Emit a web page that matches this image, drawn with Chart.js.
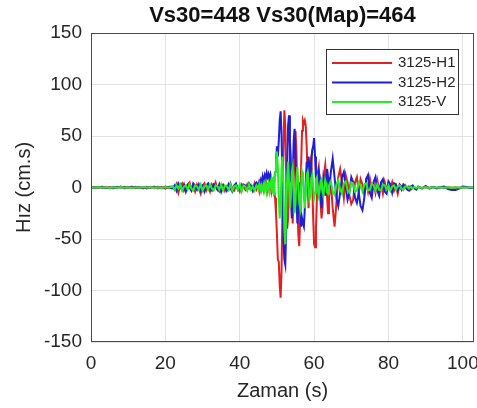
<!DOCTYPE html>
<html>
<head>
<meta charset="utf-8">
<script src="https://cdn.jsdelivr.net/npm/chart.js@4"></script>
<style>
  html, body { margin: 0; padding: 0; background: #fff; }
  #wrap { width: 477px; height: 408px; }
</style>
</head>
<body>
<div id="wrap"><canvas id="chart" width="477" height="408"></canvas></div>
<script>
// zaman (s)
const times = [
    0, 1, 2, 3, 4, 5, 6, 7, 8, 9, 10, 11, 12, 13, 14, 15, 16, 17, 18, 19, 20, 21,
    22, 22.5, 23, 23.5, 24, 24.5, 25, 25.5, 26, 26.5, 27, 27.5, 28, 28.5, 29, 29.5, 30, 30.5, 31, 31.5, 32, 32.5, 33, 33.5,
    34, 34.5, 35, 35.5, 36, 36.5, 37, 37.5, 38, 38.5, 39, 39.5, 40, 40.5, 41, 41.5, 42, 42.5, 43, 43.5, 44, 44.5,
    45, 45.25, 45.5, 45.75, 46, 46.25, 46.5, 46.75, 47, 47.25, 47.5, 47.75, 48, 48.25, 48.5, 48.75,
    49, 49.25, 49.5, 49.75, 50, 50.25, 50.5, 50.75, 51, 51.25, 51.5, 51.75, 52, 52.25, 52.5, 52.75,
    53, 53.25, 53.5, 53.75, 54, 54.25, 54.5, 54.75, 55, 55.25, 55.5, 55.75, 56, 56.25, 56.5, 56.75,
    57, 57.25, 57.5, 57.75, 58, 58.25, 58.5, 58.75, 59, 59.25, 59.5, 59.75, 60, 60.25, 60.5, 60.75,
    61, 61.25, 61.5, 61.75, 62, 62.25, 62.5, 62.75, 63, 63.25, 63.5, 63.75,
    64, 64.5, 65, 65.5, 66, 66.5, 67, 67.5, 68, 68.5, 69, 69.5, 70, 70.5, 71, 71.5, 72, 72.5, 73, 73.5,
    74, 74.5, 75, 75.5, 76, 76.5, 77, 77.5, 78, 78.5, 79, 79.5, 80, 80.5, 81, 81.5, 82, 82.5, 83, 83.5,
    84, 84.5, 85, 85.5, 86, 86.5, 87, 87.5,
    88, 89, 90, 91, 92, 93, 94, 95, 96, 97, 98, 99, 100, 101, 102, 103
];

// 3125-H1
const h1Values = [
    0, 0.5, -0.5, 0.8, -0.6, 0.4, -0.8, 0.6, -0.3, 0.7, -0.5, 0.9, -0.7, 0.5, -0.9, 0.6, -0.4, 1, -0.8, 0.5, -1, 0.8,
    1, -2, 3, -5, 2, 4, -3, 1, 3, 5, -2, 2, -4, 3, -1, -6, 2, 4, -3, 1, -4, 3, 0, 5,
    -2, -4, 2, 3, -3, 1, -2, 4, -1, -3, 2, 0, -4, 3, 1, -2, 3, -1, 2, -3, 4, -2,
    2, -3, 4, -2, 3, 5, -2, 3, 6, 2, -3, 4, 7, 3, -4, 2,
    5, -2, -10, -25, -45, -70, -72, -95, -107, -80, -20, 40, 75, 60, 10, -40,
    -30, 10, 45, 30, -10, -35, 5, 40, 55, 35, -10, -45, -57, -30, 20, 55,
    65, 62, 65, 60, 40, 10, -20, -5, 25, 30, 5, -30, -55, -58, -40, -10,
    15, 20, 5, -15, -30, -20, 0, 15, 22, 10, -10, -25,
    -10, 5, -20, -38, -15, 10, 18, 5, -10, 12, 5, -8, -16, -12, 5, 10, -5, 8, 3, -6,
    6, -4, 8, -3, 4, -5, 7, -2, 3, -6, 5, -3, 4, -2, 5, -3, 2, -6, 3, 1,
    -2, 2, -1, 1, -2, 1, 0, -1,
    0.5, -0.5, 0.3, -0.2, 0.4, -0.3, 0.2, -0.4, 0.3, -0.2, 0.1, -0.2, 0.2, -0.1, 0.1, 0
];

// 3125-H2
const h2Values = [
    0, -0.4, 0.6, -0.5, 0.3, -0.7, 0.5, -0.3, 0.8, -0.6, 0.4, -0.5, 0.7, -0.4, 0.5, -0.8, 0.6, -0.3, 0.7, -0.6, 0.9, -0.5,
    -1, 2, -3, 4, 1, -2, 3, -4, 2, 0, -3, 4, 2, -2, 3, -3, 1, -4, 2, 4, -1, -3, 3, 1,
    -2, 3, -4, 2, 1, -3, 3, -1, -4, 2, 4, -2, 1, -3, 3, 2, -2, 4, 1, -3, 3, 5,
    2, 6, 4, 8, 5, 10, 7, 12, 9, 14, 10, 13, 8, 12, 5, 2,
    -3, 5, 15, 25, 40, 30, 45, 65, 74, 50, 0, -50, -70, -75, -40, 20,
    60, 70, 40, -10, -30, 10, 45, 57, 30, -10, -35, -20, 5, -15, -38, -30,
    -35, -38, -20, 5, 25, 15, 30, 20, 10, 25, 36, 40, 48, 30, 10, -5,
    5, 15, 10, -10, -20, -5, 10, 5, -8, 5, 18, 10,
    -5, 15, 28, 10, -10, -18, -5, 10, 15, 0, -12, -5, 10, 5, -10, -15, -5, -18, -22, -10,
    8, 12, -5, -10, 5, 10, -3, -8, 5, 8, -4, -6, 6, 3, -5, 4, 3, -3, 2, -2,
    3, 1, -2, -3, 1, 2, -1, -2,
    1, -1, 1.5, -1, 0.5, -1, 0.5, 1, -1.5, -2.5, -2.5, -1, 1, 0.5, -0.5, 0
];

// 3125-V
const vValues = [
    0.3, -0.3, 0.4, -0.2, 0.3, -0.4, 0.2, -0.3, 0.4, -0.2, 0.3, -0.4, 0.2, -0.3, 0.5, -0.3, 0.4, -0.2, 0.3, -0.5, 0.4, -0.3,
    1, -2, 2, -1, 3, -3, 1, 2, -2, 3, -1, -3, 2, 1, -2, 3, -3, 1, 2, -2, 3, -1, -3, 2,
    1, -2, 3, -3, 2, 1, -2, 3, -3, 1, 2, -2, 3, -4, 2, 1, -3, 3, -2, 1, -3, 2,
    -1, 3, -2, 2, -3, 1, 4, -2, 3, -4, 2, 5, -3, 4, 8, -5,
    10, -8, 15, 25, 35, 20, -10, -30, -15, 20, 30, 0, -40, -55, -30, 10,
    25, 5, -20, -10, 15, 20, -5, -25, -15, 10, 20, 5, -15, -20, 0, 15,
    10, -10, -20, -5, 12, 15, 0, -12, -8, 8, 12, 0, -10, -5, 8, 10,
    -2, -8, -3, 6, 8, -2, -8, 0, 7, 4, -5, -6,
    2, 6, -4, -7, 3, 7, -2, -6, 4, 6, -3, -5, 5, 4, -4, -3, 5, 2, -4, 3,
    4, -3, -2, 4, 2, -3, 3, -2, -3, 3, 2, -2, 2, -3, 1, 2, -2, 1, 2, -1,
    -2, 1, 1, -1, 1, -1, 0.5, -0.5,
    0.5, -0.5, 0.4, -0.4, 0.3, -0.3, 0.3, -0.3, 0.2, -0.2, 0.2, -0.2, 0.1, -0.1, 0.1, 0
];

const seriesLabels = ['3125-H1', '3125-H2', '3125-V'];
const seriesColors = ['#e41f1f', '#1f1fd6', '#22ee22'];
const xTicks = [0, 20, 40, 60, 80, 100];

function toPoints(values) {
    return values.map((v, i) => ({ x: times[i], y: v }));
}

// MATLAB tarzı çerçeve
const boxPlugin = {
    id: 'boxPlugin',
    afterDraw(chart) {
        const { ctx, chartArea } = chart;
        ctx.save();
        ctx.strokeStyle = '#4a4a4a';
        ctx.lineWidth = 1;
        ctx.strokeRect(chartArea.left + 0.5, chartArea.top + 0.5,
            chartArea.right - chartArea.left - 1, chartArea.bottom - chartArea.top - 1);
        ctx.restore();
    }
};

// grafik içindeki lejant
const legendPlugin = {
    id: 'legendPlugin',
    afterDraw(chart) {
        const { ctx, chartArea } = chart;
        const boxW = 132, boxH = 65;
        const x = chartArea.right - 16 - boxW;
        const y = chartArea.top + 16;
        ctx.save();
        ctx.fillStyle = '#ffffff';
        ctx.fillRect(x, y, boxW, boxH);
        ctx.strokeStyle = '#333333';
        ctx.lineWidth = 1;
        ctx.strokeRect(x + 0.5, y + 0.5, boxW, boxH);
        ctx.font = '15px "Liberation Sans", Arial, sans-serif';
        ctx.textBaseline = 'middle';
        chart.data.datasets.forEach((ds, i) => {
            const rowY = y + 14 + i * 19.5;
            ctx.strokeStyle = ds.borderColor;
            ctx.lineWidth = 2;
            ctx.beginPath();
            ctx.moveTo(x + 6, rowY);
            ctx.lineTo(x + 66, rowY);
            ctx.stroke();
            ctx.fillStyle = '#262626';
            ctx.fillText(ds.label, x + 72, rowY);
        });
        ctx.restore();
    }
};

const datasets = [h1Values, h2Values, vValues].map((values, i) => ({
    label: seriesLabels[i],
    data: toPoints(values),
    borderColor: seriesColors[i],
    backgroundColor: seriesColors[i],
    borderWidth: 2,
    pointRadius: 0,
    tension: 0,
    fill: false,
    order: 3 - i
}));

const fontFamily = '"Liberation Sans", Arial, sans-serif';

new Chart(document.getElementById('chart').getContext('2d'), {
    type: 'line',
    data: { datasets },
    options: {
        responsive: false,
        animation: false,
        devicePixelRatio: 1,
        layout: { padding: { left: 0, right: 3, top: 0, bottom: 0 } },
        plugins: {
            legend: { display: false },
            tooltip: { enabled: false },
            title: {
                display: true,
                fullSize: false,
                text: 'Vs30=448 Vs30(Map)=464',
                color: '#111',
                font: { family: fontFamily, size: 22, weight: 'bold' },
                padding: { top: 3, bottom: 3.6 }
            }
        },
        scales: {
            x: {
                type: 'linear',
                min: 0,
                max: 103,
                afterBuildTicks(scale) {
                    scale.ticks = xTicks.map(v => ({ value: v }));
                },
                afterFit(scale) {
                    scale.height = 66;
                    scale.paddingLeft = 0;
                    scale.paddingRight = 0;
                },
                ticks: {
                    color: '#262626',
                    font: { family: fontFamily, size: 19 },
                    padding: 10,
                    maxRotation: 0
                },
                grid: { color: '#e3e3e3', drawTicks: false },
                border: { display: false },
                title: {
                    display: true,
                    text: 'Zaman (s)',
                    color: '#262626',
                    font: { family: fontFamily, size: 20 },
                    padding: { top: 0, bottom: 5 }
                }
            },
            y: {
                min: -150,
                max: 150,
                ticks: {
                    stepSize: 50,
                    color: '#262626',
                    font: { family: fontFamily, size: 19 },
                    padding: 9
                },
                afterFit(scale) {
                    scale.width = 91;
                    scale.paddingTop = 0;
                    scale.paddingBottom = 0;
                },
                grid: { color: '#e3e3e3', drawTicks: false },
                border: { display: false },
                title: {
                    display: true,
                    text: 'Hız (cm.s)',
                    color: '#262626',
                    font: { family: fontFamily, size: 20 },
                    padding: { top: 12, bottom: 0 }
                }
            }
        }
    },
    plugins: [boxPlugin, legendPlugin]
});
</script>
</body>
</html>
